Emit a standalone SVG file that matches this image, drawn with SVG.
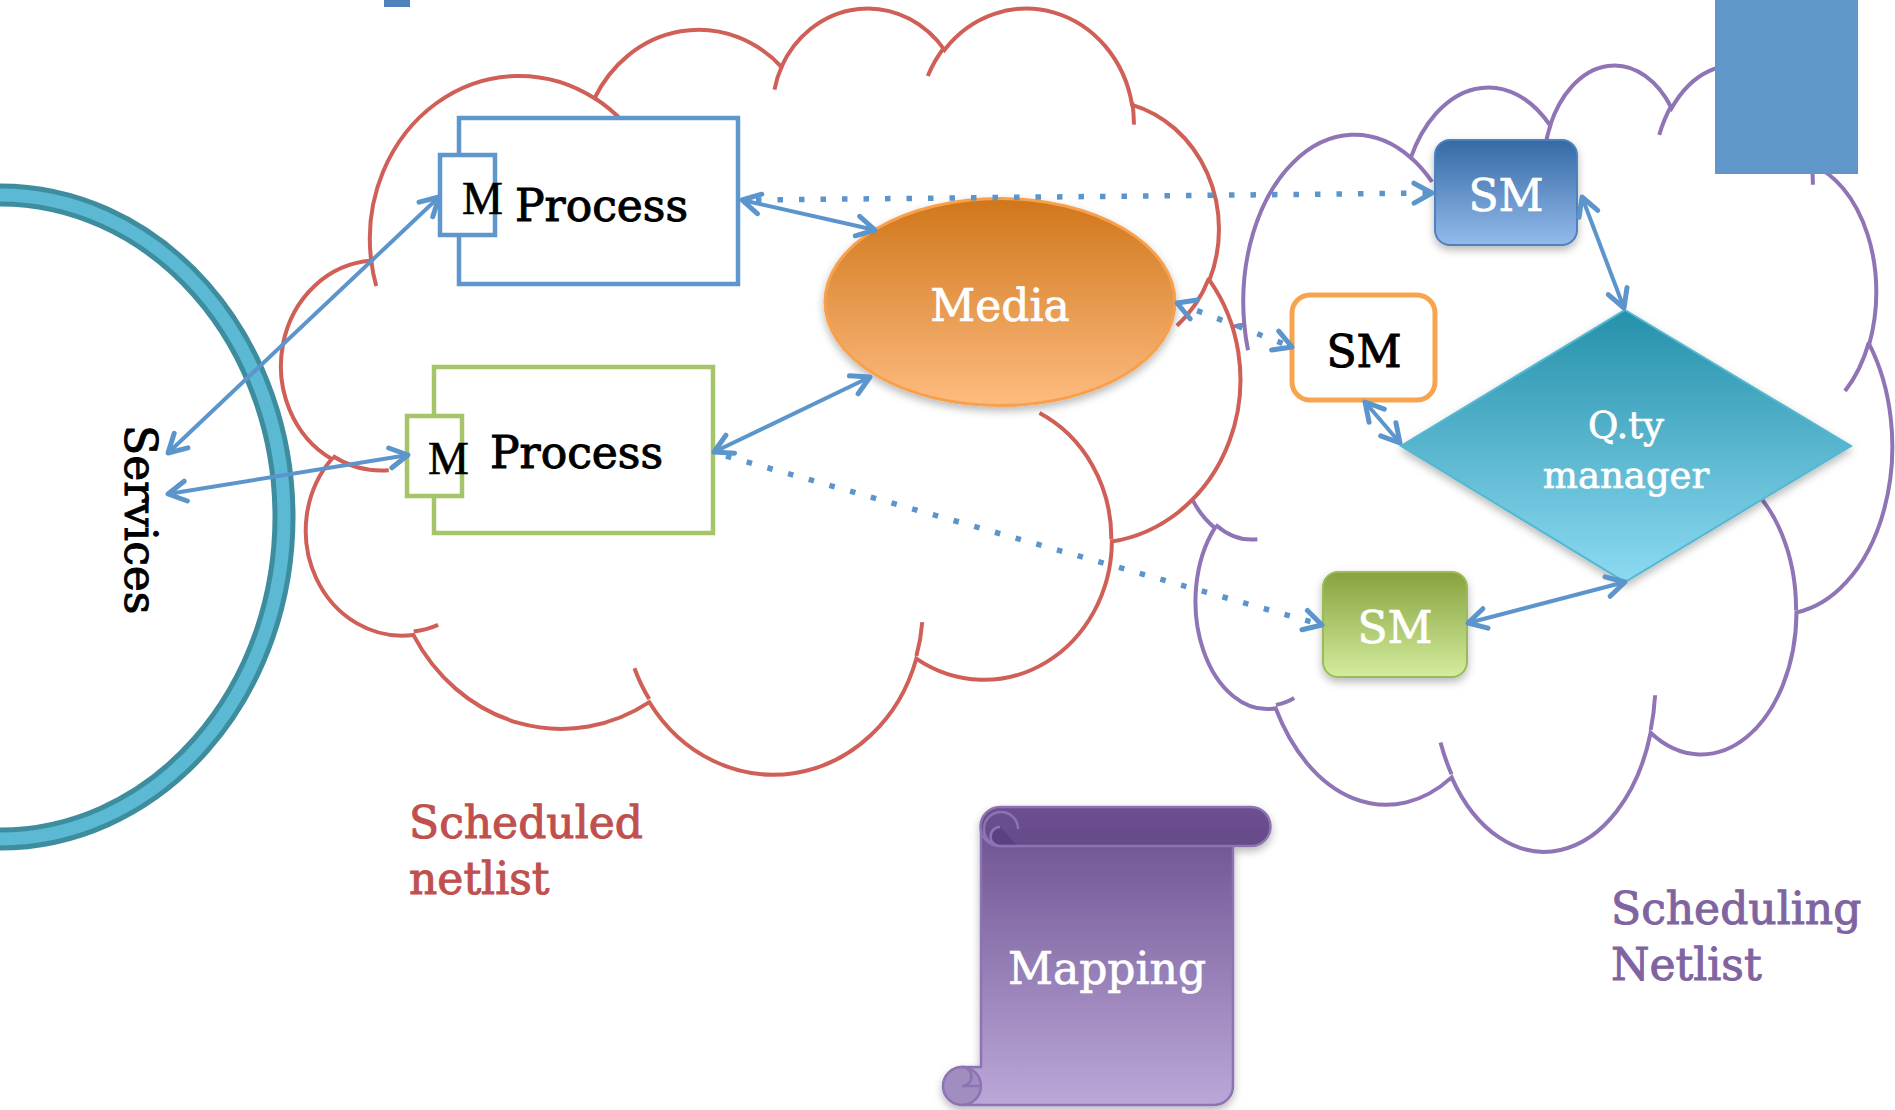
<svg xmlns="http://www.w3.org/2000/svg" width="1895" height="1110" viewBox="0 0 1895 1110">
  <style>
    .lbl { font-family: "DejaVu Serif", "Liberation Serif", serif; font-size: 44px; stroke-width: 1; }
    .small { font-size: 37px; }
    .white { fill: #ffffff; stroke: #ffffff; stroke-width: 0.7; }
    .ink { fill: #000000; stroke: #000000; }
    .mtxt { font-family: "Liberation Serif", "Times New Roman", serif; font-size: 46px; fill: #000; stroke: #000; stroke-width: 0.6; }
    .cloud-red { fill: #ffffff; stroke: #cf5f57; stroke-width: 4; }
    .cloud-purple { fill: #ffffff; stroke: #8f74b6; stroke-width: 4; }
    .inner { fill: none; }
    .conn { fill: none; stroke: #5b95cc; stroke-width: 4; }
    .dot { stroke-width: 5.5; stroke-dasharray: 5.5 16; }
    .arr { marker-end: url(#ah); marker-start: url(#ah); }
  </style>
  <defs>
    <marker id="ah" viewBox="-22 -13 26 26" refX="0" refY="0" markerWidth="26" markerHeight="26" markerUnits="userSpaceOnUse" orient="auto-start-reverse">
      <path d="M -18 -10 L 0 0 L -18 10" fill="none" stroke="#5b95cc" stroke-width="5" stroke-dasharray="none" stroke-linecap="round" stroke-linejoin="round"/>
    </marker>
    <filter id="sh" x="-20%" y="-20%" width="140%" height="150%">
      <feDropShadow dx="0" dy="4" stdDeviation="4" flood-color="#000" flood-opacity="0.28"/>
    </filter>
    <linearGradient id="gMedia" x1="0" y1="0" x2="0" y2="1">
      <stop offset="0" stop-color="#d0761a"/>
      <stop offset="1" stop-color="#fdbc80"/>
    </linearGradient>
    <linearGradient id="gSmBlue" x1="0" y1="0" x2="0" y2="1">
      <stop offset="0" stop-color="#346aa5"/>
      <stop offset="1" stop-color="#94baeb"/>
    </linearGradient>
    <linearGradient id="gSmGreen" x1="0" y1="0" x2="0" y2="1">
      <stop offset="0" stop-color="#86a33e"/>
      <stop offset="1" stop-color="#d4ec9e"/>
    </linearGradient>
    <linearGradient id="gDiamond" x1="0" y1="0" x2="0" y2="1">
      <stop offset="0" stop-color="#2590aa"/>
      <stop offset="1" stop-color="#8cdaf2"/>
    </linearGradient>
    <linearGradient id="gScroll" x1="0" y1="0" x2="0" y2="1">
      <stop offset="0" stop-color="#6e5292"/>
      <stop offset="1" stop-color="#bba8d8"/>
    </linearGradient>
    <linearGradient id="gRoll" x1="0" y1="0" x2="0" y2="1">
      <stop offset="0" stop-color="#6d5090"/>
      <stop offset="1" stop-color="#664a88"/>
    </linearGradient>
  </defs>

  <!-- corner accents -->
  <rect x="384" y="0" width="26" height="7" fill="#4f81bd"/>

  <!-- Services ring -->
  <g id="services">
    <ellipse cx="0" cy="517" rx="284" ry="322" fill="none" stroke="#3d8d9f" stroke-width="23"/>
    <ellipse cx="0" cy="517" rx="284" ry="322" fill="none" stroke="#5bb9d3" stroke-width="13"/>
    <text class="lbl ink" transform="translate(125,425) rotate(90)">Services</text>
  </g>

  <!-- Scheduling netlist cloud -->
  <g id="cloud-scheduling" transform="translate(1180,63) scale(0.016481,0.018194)">
    <path class="cloud-purple" vector-effect="non-scaling-stroke" d="M 3900 14370 A 6753 9190 0 0 1 14005 5202 A 5333 7267 0 0 1 22455 3430 A 4365 5945 0 0 1 29832 2478 A 4857 6595 0 0 1 38318 5572 A 5333 7273 0 0 1 41818 15456 A 6775 9220 0 0 1 37405 30200 A 5785 7867 0 0 1 28557 36811 A 6752 9215 0 0 1 16483 39264 A 7720 10543 0 0 1 5806 35469 A 4360 5918 0 0 1 2114 25549 A 4345 5945 0 0 1 3900 14370 Z"/>
    <path class="cloud-purple inner" vector-effect="non-scaling-stroke" d="M 4693 26177 A 4345 5945 0 0 1 2159 25380 M 6928 34899 A 4360 5918 0 0 1 5820 35280 M 16478 39090 A 6752 9215 0 0 1 15809 37348 M 28827 34751 A 6752 9215 0 0 1 28561 36659 M 34129 22954 A 5785 7867 0 0 1 37381 30090 M 41798 15354 A 5333 7273 0 0 1 40349 18032 M 38324 5426 A 4857 6595 0 0 1 38400 6690 M 29078 3952 A 4857 6595 0 0 1 29820 2340 M 22141 4720 A 4365 5945 0 0 1 22500 3330 M 14000 5192 A 6753 9190 0 0 1 15298 6538 M 4127 15789 A 6753 9190 0 0 1 3900 14371"/>
  </g>

  <!-- Scheduled netlist cloud -->
  <g id="cloud-scheduled" transform="translate(285,6) scale(0.022106,0.017731)">
    <path class="cloud-red" vector-effect="non-scaling-stroke" d="M 3900 14370 A 6753 9190 0 0 1 14005 5202 A 5333 7267 0 0 1 22455 3430 A 4365 5945 0 0 1 29832 2478 A 4857 6595 0 0 1 38318 5572 A 5333 7273 0 0 1 41818 15456 A 6775 9220 0 0 1 37405 30200 A 5785 7867 0 0 1 28557 36811 A 6752 9215 0 0 1 16483 39264 A 7720 10543 0 0 1 5806 35469 A 4360 5918 0 0 1 2114 25549 A 4345 5945 0 0 1 3900 14370 Z"/>
    <path class="cloud-red inner" vector-effect="non-scaling-stroke" d="M 4693 26177 A 4345 5945 0 0 1 2159 25380 M 6928 34899 A 4360 5918 0 0 1 5820 35280 M 16478 39090 A 6752 9215 0 0 1 15809 37348 M 28827 34751 A 6752 9215 0 0 1 28561 36659 M 34129 22954 A 5785 7867 0 0 1 37381 30090 M 41798 15354 A 5333 7273 0 0 1 40349 18032 M 38324 5426 A 4857 6595 0 0 1 38400 6690 M 29078 3952 A 4857 6595 0 0 1 29820 2340 M 22141 4720 A 4365 5945 0 0 1 22500 3330 M 14000 5192 A 6753 9190 0 0 1 15298 6538 M 4127 15789 A 6753 9190 0 0 1 3900 14371"/>
  </g>

  <rect x="1715" y="0" width="143" height="174" fill="#6096c9"/>

  <!-- Process blocks -->
  <g id="process-top">
    <rect x="459" y="118" width="279" height="166" fill="#ffffff" stroke="#5f97cd" stroke-width="4.5"/>
    <rect x="440" y="155" width="55" height="80" fill="#ffffff" stroke="#5f97cd" stroke-width="4.5"/>
    <text class="mtxt" x="462" y="214">M</text>
    <text class="lbl ink" x="515" y="221">Process</text>
  </g>
  <g id="process-bottom">
    <rect x="434" y="367" width="279" height="166" fill="#ffffff" stroke="#a6c46a" stroke-width="4.5"/>
    <rect x="407" y="416" width="55" height="80" fill="#ffffff" stroke="#a6c46a" stroke-width="4.5"/>
    <text class="mtxt" x="428" y="474">M</text>
    <text class="lbl ink" x="490" y="468">Process</text>
  </g>

  <!-- Media -->
  <g id="media">
    <ellipse cx="1000" cy="302" rx="175" ry="103.5" fill="url(#gMedia)" stroke="#f8a14e" stroke-width="3" filter="url(#sh)"/>
    <text class="lbl white" x="1000" y="321" text-anchor="middle">Media</text>
  </g>

  <!-- State machines -->
  <g id="sm-blue">
    <rect x="1435" y="140" width="142" height="105" rx="15" fill="url(#gSmBlue)" stroke="#4f81bd" stroke-width="2" filter="url(#sh)"/>
    <text class="lbl white" x="1506" y="211" text-anchor="middle">SM</text>
  </g>
  <g id="sm-orange">
    <rect x="1292" y="295" width="143" height="105" rx="18" fill="#ffffff" stroke="#f8a44f" stroke-width="5"/>
    <text class="lbl ink" x="1364" y="367" text-anchor="middle">SM</text>
  </g>
  <g id="sm-green">
    <rect x="1323" y="572" width="144" height="105" rx="15" fill="url(#gSmGreen)" stroke="#9bbb59" stroke-width="2" filter="url(#sh)"/>
    <text class="lbl white" x="1395" y="643" text-anchor="middle">SM</text>
  </g>

  <!-- Quantity manager -->
  <g id="qty-manager">
    <polygon points="1625,310 1851,446 1625,582 1401,446" fill="url(#gDiamond)" stroke="#52b8d0" stroke-width="2" filter="url(#sh)"/>
    <text class="lbl small white" x="1626" y="438" text-anchor="middle">Q.ty</text>
    <text class="lbl small white" x="1626" y="488" text-anchor="middle">manager</text>
  </g>

  <!-- Mapping scroll -->
  <g id="mapping" stroke="#8d73b4" stroke-width="2.5">
    <g filter="url(#sh)">
      <path d="M 981 826 H 1233 V 1086 A 19 19 0 0 1 1214 1105 H 962 V 1067 H 981 Z" fill="url(#gScroll)"/>
      <circle cx="962" cy="1086" r="19" fill="#a18ec0"/>
      <path d="M 1000 807 H 1251 A 19.5 19.5 0 0 1 1251 846 H 1000 A 19.5 19.5 0 0 1 1000 807 Z" fill="url(#gRoll)"/>
    </g>
    <path d="M 1001 846 A 17 17 0 1 1 1018 829" fill="none"/>
    <path d="M 1000 827 A 9.5 9.5 0 0 0 1000 846 H 1018" fill="#5c4180"/>
    <path d="M 962 1067 A 9.5 9.5 0 0 1 962 1086 H 981" fill="none"/>
    <text class="lbl white" x="1107" y="984" text-anchor="middle">Mapping</text>
  </g>

  <!-- Connectors -->
  <g id="connectors">
    <line class="conn arr" x1="439" y1="197" x2="168" y2="453"/>
    <line class="conn arr" x1="408" y1="455" x2="168" y2="494"/>
    <line class="conn arr" x1="742" y1="200" x2="875" y2="230"/>
    <line class="conn dot" x1="756" y1="200" x2="1432" y2="193" marker-end="url(#ah)"/>
    <line class="conn arr" x1="714" y1="452" x2="870" y2="377"/>
    <line class="conn dot" x1="726" y1="456" x2="1322" y2="625" marker-end="url(#ah)"/>
    <line class="conn dot arr" x1="1177" y1="303" x2="1292" y2="347"/>
    <line class="conn arr" x1="1582" y1="197" x2="1624" y2="308"/>
    <line class="conn arr" x1="1365" y1="402" x2="1400" y2="443"/>
    <line class="conn arr" x1="1468" y1="623" x2="1625" y2="582"/>
  </g>

  <!-- Netlist captions -->
  <g id="caption-scheduled" fill="#c0504d" stroke="#c0504d">
    <text class="lbl" x="409" y="838">Scheduled</text>
    <text class="lbl" x="409" y="894">netlist</text>
  </g>
  <g id="caption-scheduling" fill="#8064a2" stroke="#8064a2">
    <text class="lbl" x="1611" y="924">Scheduling</text>
    <text class="lbl" x="1611" y="980">Netlist</text>
  </g>
</svg>
